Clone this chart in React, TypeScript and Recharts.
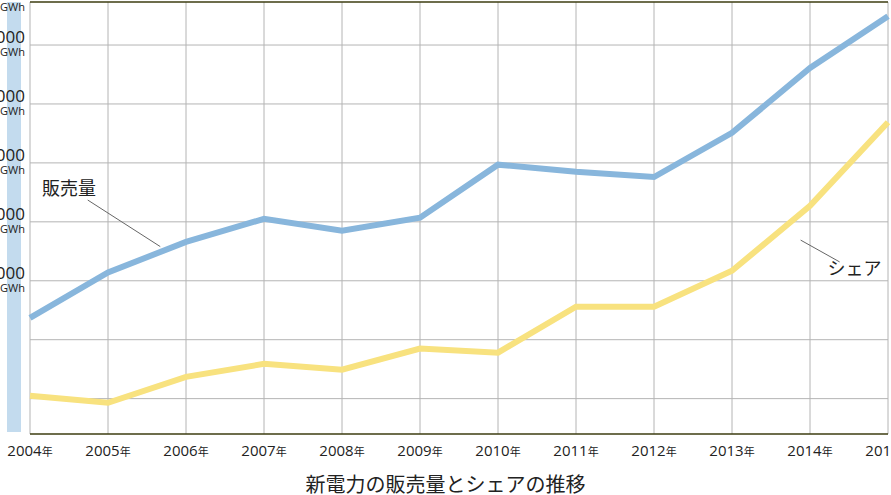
import {
  LineChart,
  Line,
  XAxis,
  YAxis,
  CartesianGrid,
  ReferenceLine,
  ReferenceDot,
} from "recharts";

// values in grid-step units (one horizontal grid interval = 1)
const years = [2004, 2005, 2006, 2007, 2008, 2009, 2010, 2011, 2012, 2013, 2014, 2015];
const sales = [1.37, 2.14, 2.66, 3.05, 2.85, 3.07, 3.97, 3.85, 3.76, 4.51, 5.61, 6.49];
const share = [0.05, -0.07, 0.37, 0.59, 0.49, 0.85, 0.78, 1.56, 1.56, 2.17, 3.27, 4.69];
const yLabels: Record<number, string> = {
  2: "10,000",
  3: "20,000",
  4: "30,000",
  5: "40,000",
  6: "50,000",
};

const data = years.map((y, i) => ({ year: y, sales: sales[i], share: share[i] }));
const font = "'Open Sans', 'Noto Sans CJK JP', sans-serif";

const XTick = (props: any) => {
  const { x, y, payload } = props;
  const yr = payload.value;
  return (
    <g>
      <text x={x} y={y + 14} textAnchor="middle" fontFamily={font} fill="#222">
        <tspan fontSize={15}>{yr}</tspan>
        <tspan fontSize={11}>年</tspan>
      </text>
      {yr === 2015 && (
        <text x={x - 20} y={y + 32} textAnchor="start" fontFamily={font} fontSize={11} fill="#222">
          （推計）
        </text>
      )}
    </g>
  );
};

const YTick = (props: any) => {
  const { y, payload } = props;
  const v = payload.value;
  const label = yLabels[v];
  if (!label) return null;
  const x = 25;
  return (
    <g fontFamily={font} fill="#222">
      <text x={x} y={y - 2} textAnchor="end" fontSize={17}>{label}</text>
      <text x={x} y={y + 11} textAnchor="end" fontSize={11}>GWh</text>
      {v === 6 && (
        <text x={x} y={y - 34} textAnchor="end" fontSize={11}>GWh</text>
      )}
    </g>
  );
};

export default function App() {
  return (
    <div style={{ position: "absolute", left: 0, top: 0, width: 891, height: 495, overflow: "hidden", background: "#fff" }}>
      <div style={{ position: "absolute", left: 7, top: 2, width: 14, height: 430, background: "#c3dbee" }} />
      <div style={{ position: "absolute", left: 0, top: 0 }}>
        <LineChart width={891} height={464} data={data} margin={{ top: 2, right: 3, left: 0, bottom: 0 }}>
          <CartesianGrid stroke="#b4b4b4" strokeWidth={1} horizontalValues={[0, 1, 2, 3, 4, 5, 6]} verticalValues={years} />
          <XAxis
            dataKey="year"
            type="number"
            domain={[2004, 2015]}
            ticks={years}
            tick={<XTick />}
            tickLine={false}
            axisLine={{ stroke: "#3d3d10", strokeWidth: 1.5 }}
            height={30}
            interval={0}
          />
          <YAxis
            type="number"
            domain={[-0.6, 6.73]}
            ticks={[0, 1, 2, 3, 4, 5, 6]}
            tick={<YTick />}
            tickLine={false}
            axisLine={false}
            width={30}
            allowDataOverflow
          />
          <ReferenceLine y={6.73} stroke="#3d3d10" strokeWidth={1.5} ifOverflow="extendDomain" />
          <ReferenceLine
            segment={[{ x: 2004.74, y: 3.37 }, { x: 2005.67, y: 2.58 }]}
            stroke="#666"
            strokeWidth={1}
          />
          <ReferenceLine
            segment={[{ x: 2013.88, y: 2.69 }, { x: 2014.38, y: 2.32 }]}
            stroke="#666"
            strokeWidth={1}
          />
          <Line dataKey="sales" stroke="#88b6dc" strokeWidth={6} dot={false} isAnimationActive={false} />
          <Line dataKey="share" stroke="#f8e27f" strokeWidth={6} dot={false} isAnimationActive={false} />
          <ReferenceDot
            x={2004.5}
            y={3.56}
            r={0}
            label={{ value: "販売量", position: "center", fontSize: 18, fill: "#222", fontFamily: font }}
          />
          <ReferenceDot
            x={2014.57}
            y={2.2}
            r={0}
            label={{ value: "シェア", position: "center", fontSize: 18, fill: "#222", fontFamily: font }}
          />
        </LineChart>
      </div>
      <div style={{ position: "absolute", left: 0, width: 891, top: 469, textAlign: "center", fontFamily: font, fontSize: 20, color: "#222" }}>
        新電力の販売量とシェアの推移
      </div>
    </div>
  );
}
